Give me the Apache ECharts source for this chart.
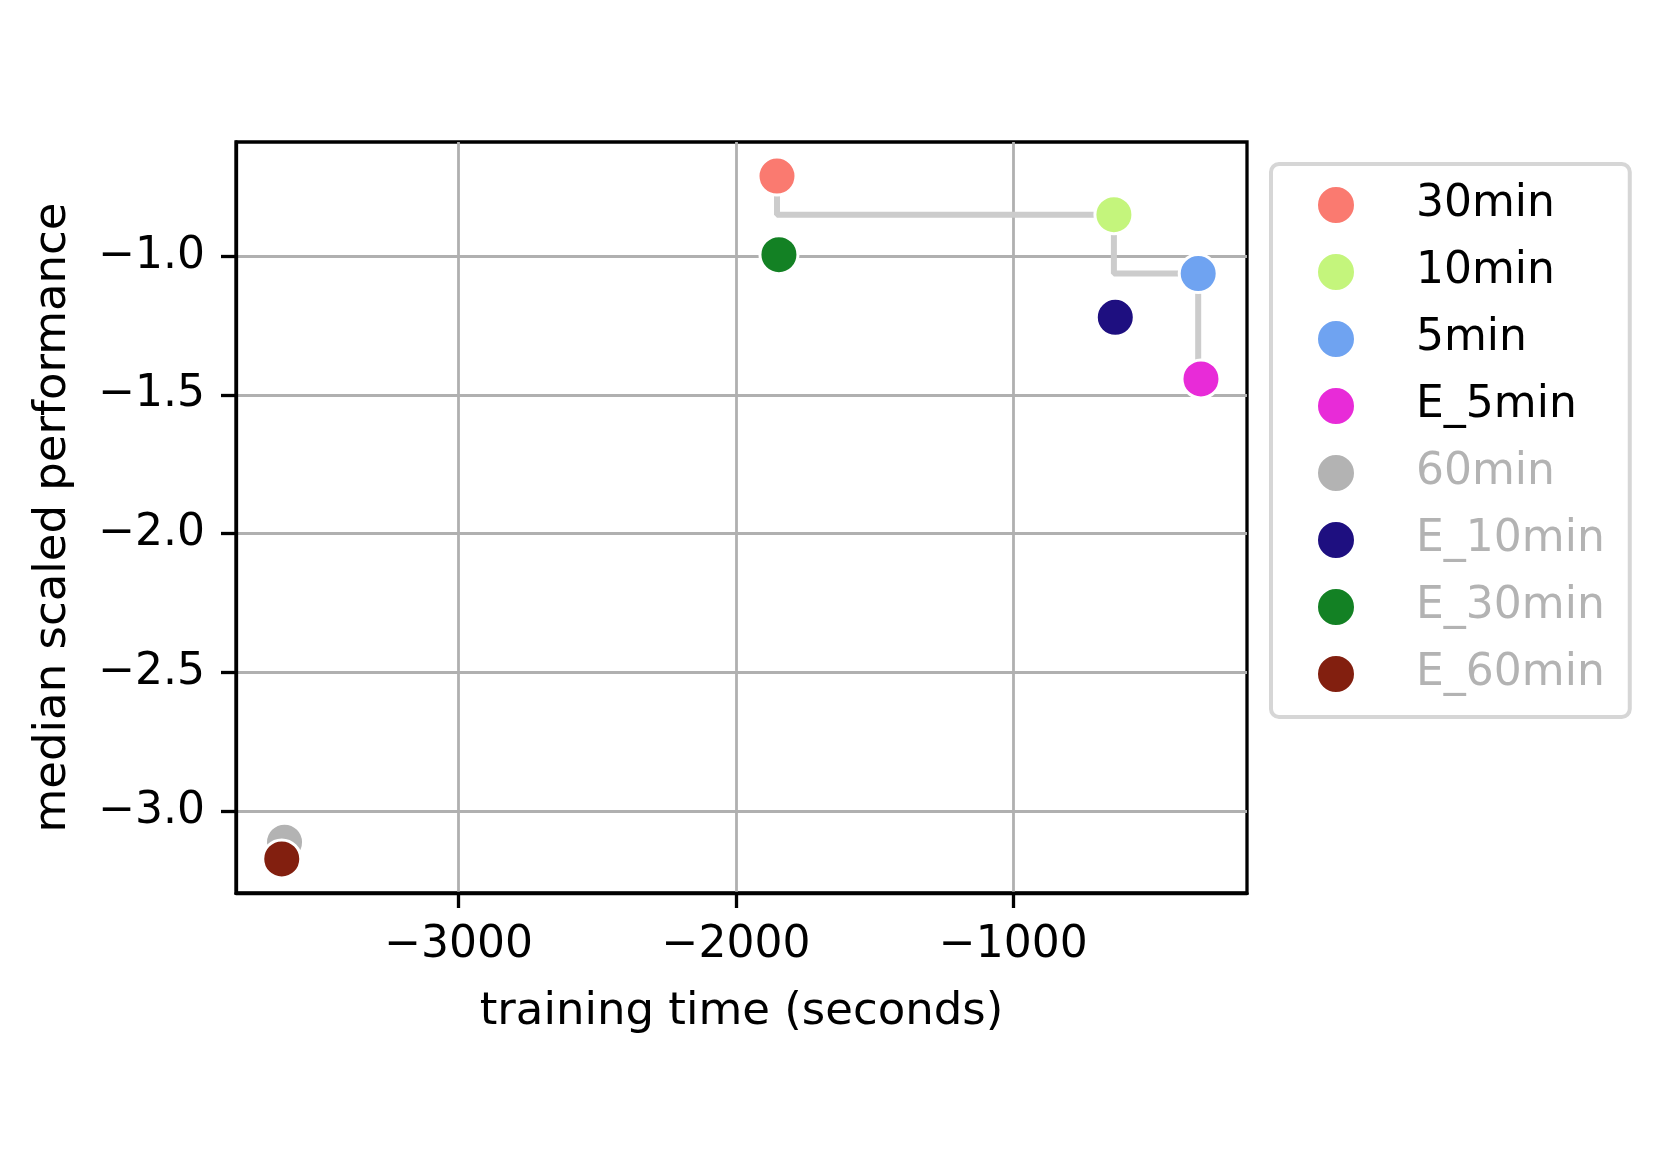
<!DOCTYPE html>
<html>
<head>
<meta charset="utf-8">
<title>median scaled performance vs training time</title>
<script src="https://cdn.jsdelivr.net/npm/echarts@6/dist/echarts.min.js"></script>
<style>
  html, body { margin: 0; padding: 0; background: #fff; }
  #chart { width: 1661px; height: 1174px; }
</style>
</head>
<body>
<div id="chart"></div>
<script>
// series names, in legend order
var names = ['30min', '10min', '5min', 'E_5min', '60min', 'E_10min', 'E_30min', 'E_60min'];
// training time (seconds)
var times = [-1852, -637, -333, -323, -3628, -632, -1845, -3638];
// median scaled performance
var perf = [-0.711, -0.850, -1.062, -1.442, -3.112, -1.220, -0.994, -3.172];
var colors = ['#fa7a70', '#c4f57c', '#6fa3f1', '#e82bd8', '#b3b3b3', '#1e0f80', '#138124', '#821f0f'];
// the legend greys out the last four names
var legendTextColors = ['#000', '#000', '#000', '#000', '#b3b3b3', '#b3b3b3', '#b3b3b3', '#b3b3b3'];
// points on the step line (pareto front)
var frontNames = ['30min', '10min', '5min', 'E_5min'];

// axis ranges and tick labels
var xRange = [-3803, -157];
var yRange = [-3.295, -0.588];
var xTicks = [-3000, -2000, -1000];
var yTicks = [-3.0, -2.5, -2.0, -1.5, -1.0];

var FONT = 'DejaVu Sans';

function minus(s) {
    return s.replace('-', '\u2212');
}

var chart = echarts.init(document.getElementById('chart'));

var series = [];
series.push({
    name: 'front',
    type: 'line',
    step: 'start',
    showSymbol: false,
    silent: true,
    z: 1,
    lineStyle: { color: '#cccccc', width: 6 },
    data: frontNames.map(function (n) {
        var i = names.indexOf(n);
        return [times[i], perf[i]];
    })
});
names.forEach(function (n, i) {
    series.push({
        name: n,
        type: 'scatter',
        z: 3,
        symbol: 'circle',
        symbolSize: 38,
        itemStyle: { color: colors[i], borderColor: '#fff', borderWidth: 3, opacity: 1 },
        data: [[times[i], perf[i]]]
    });
});

var option = {
    animation: false,
    backgroundColor: '#fff',
    textStyle: { fontFamily: FONT },
    grid: {
        left: 236, top: 142, right: 414, bottom: 281,
        show: true, borderColor: '#000', borderWidth: 3.3
    },
    legend: {
        orient: 'vertical',
        left: 1271,
        top: 164,
        padding: [19, 25, 21, 45],
        itemGap: 23,
        itemWidth: 38,
        itemHeight: 38,
        icon: 'circle',
        borderColor: '#d6d6d6',
        borderWidth: 4,
        borderRadius: 8,
        backgroundColor: '#fff',
        textStyle: { fontFamily: FONT, fontSize: 44, lineHeight: 42, padding: [0, 0, 0, 56] },
        data: names.map(function (n, i) {
            return { name: n, textStyle: { color: legendTextColors[i] } };
        })
    },
    xAxis: {
        type: 'value',
        min: xRange[0],
        max: xRange[1],
        splitNumber: 4,
        name: 'training time (seconds)',
        nameLocation: 'middle',
        nameGap: 97,
        nameTextStyle: { fontFamily: FONT, fontSize: 45, color: '#000' },
        axisLine: { show: true, lineStyle: { color: '#000', width: 3.3 } },
        axisTick: { show: true, customValues: xTicks, length: 15, lineStyle: { color: '#000', width: 3.3 } },
        axisLabel: {
            customValues: xTicks,
            margin: 31, fontFamily: FONT, fontSize: 44, color: '#000',
            formatter: function (v) { return minus(String(Math.round(v))); }
        },
        splitLine: { show: true, lineStyle: { color: '#b0b0b0', width: 2.8 } }
    },
    yAxis: {
        type: 'value',
        min: yRange[0],
        max: yRange[1],
        splitNumber: 5,
        name: 'median scaled performance',
        nameLocation: 'middle',
        nameGap: 160,
        nameTextStyle: { fontFamily: FONT, fontSize: 45, color: '#000' },
        axisLine: { show: true, lineStyle: { color: '#000', width: 3.3 } },
        axisTick: { show: true, customValues: yTicks, length: 15, lineStyle: { color: '#000', width: 3.3 } },
        axisLabel: {
            customValues: yTicks,
            margin: 31, fontFamily: FONT, fontSize: 44, color: '#000',
            formatter: function (v) { return minus(v.toFixed(1)); }
        },
        splitLine: { show: true, lineStyle: { color: '#b0b0b0', width: 2.8 } }
    },
    series: series
};

chart.setOption(option);
</script>
</body>
</html>
